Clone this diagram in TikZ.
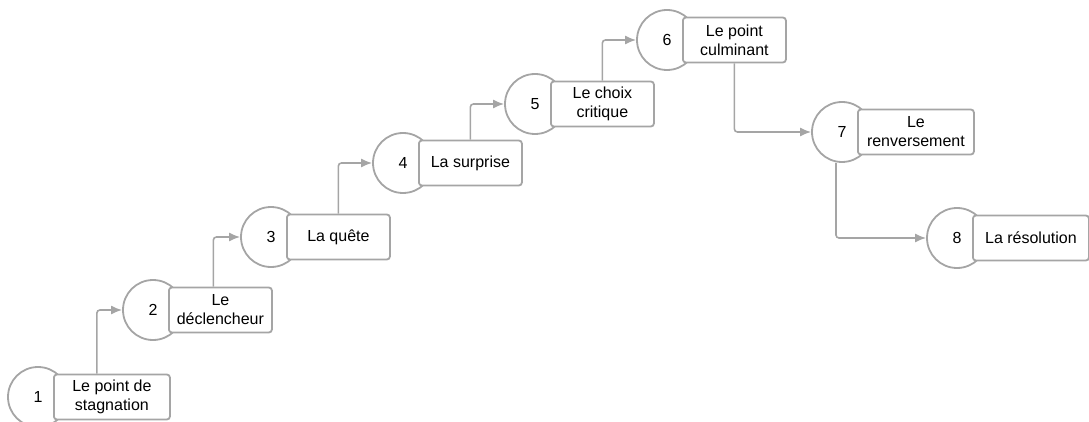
\documentclass[tikz,border=0pt]{standalone}
\usepackage{fontspec}
\setmainfont{Liberation Sans}
\usetikzlibrary{positioning,arrows.meta}
\definecolor{linegray}{HTML}{A5A5A5}
\tikzset{
    number/.style={circle,draw=linegray,line width=1.8pt,fill=white,minimum size=60pt,inner sep=0pt,text centered},
    label/.style={rectangle,rounded corners=3pt,draw=linegray,line width=1.8pt,fill=white,align=center,minimum width=103pt,minimum height=45pt,inner sep=2pt},
    widelabel/.style={label,minimum width=116pt},
    flow/.style={->,draw=linegray,line width=1.6pt,rounded corners=3pt},
}

\begin{document}
\begin{tikzpicture}[x=1pt,y=-1pt,>={Latex[length=11pt,width=9pt]},font=\fontsize{16}{19}\selectfont]
\useasboundingbox (0,0) rectangle (1089,422);
\node[number] (N1) at (38,397) {1};
\node[widelabel] (L1) [right =15pt of N1.center] {Le point de\\stagnation};
\node[number] (N2) at (153,310) {2};
\node[label] (L2) [right =15pt of N2.center] {Le\\déclencheur};
\node[number] (N3) at (271,237) {3};
\node[label] (L3) [right =15pt of N3.center] {La quête};
\node[number] (N4) at (403,163) {4};
\node[label] (L4) [right =15pt of N4.center] {La surprise};
\node[number] (N5) at (535,104) {5};
\node[label] (L5) [right =15pt of N5.center] {Le choix\\critique};
\node[number] (N6) at (667,40) {6};
\node[label] (L6) [right =15pt of N6.center] {Le point\\culminant};
\node[number] (N7) at (842,132) {7};
\node[widelabel] (L7) [right =15pt of N7.center] {Le\\renversement};
\node[number] (N8) at (957,238) {8};
\node[widelabel] (L8) [right =15pt of N8.center] {La résolution};
\draw[flow] ([xshift=-15pt]L1.north) |- (N2.west);
\draw[flow] ([xshift=-7pt]L2.north) |- (N3.west);
\draw[flow] (L3.north) |- (N4.west);
\draw[flow] (L4.north) |- (N5.west);
\draw[flow] (L5.north) |- (N6.west);
\draw[flow] (L6.south) |- (N7.west);
\draw[flow] ([xshift=-6pt]N7.south) |- (N8.west);
\end{tikzpicture}
\end{document}
